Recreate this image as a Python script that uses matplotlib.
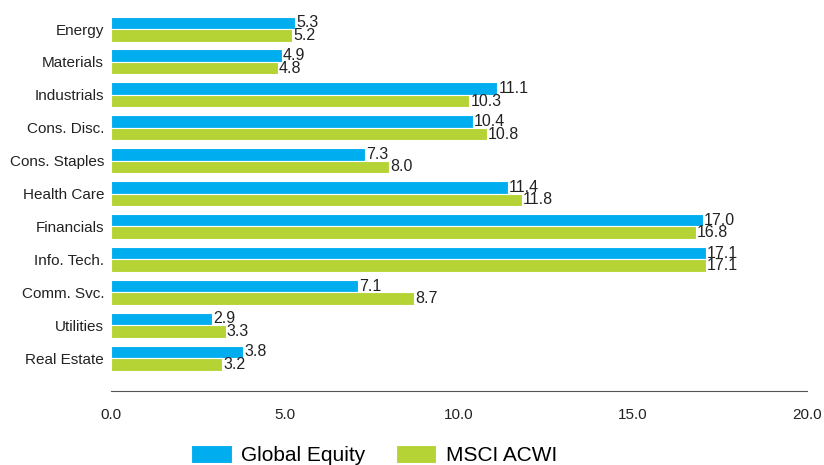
import matplotlib.pyplot as plt
import numpy as np

sectors = ["Energy", "Materials", "Industrials", "Cons. Disc.", "Cons. Staples",
           "Health Care", "Financials", "Info. Tech.", "Comm. Svc.", "Utilities",
           "Real Estate"]
global_equity = [5.3, 4.9, 11.1, 10.4, 7.3, 11.4, 17.0, 17.1, 7.1, 2.9, 3.8]
msci_acwi = [5.2, 4.8, 10.3, 10.8, 8.0, 11.8, 16.8, 17.1, 8.7, 3.3, 3.2]

plt.rcParams["font.family"] = ["Liberation Sans Narrow", "Liberation Sans", "DejaVu Sans"]

blue = "#00AEEF"
green = "#B5D334"

fig = plt.figure(figsize=(8.24, 4.65), dpi=100)
ax = fig.add_axes([0.1347, 0.159, 0.8447, 0.814])

y = np.arange(len(sectors))
h = 0.38
b1 = ax.barh(y - h / 2, global_equity, height=h, color=blue, edgecolor="white",
             linewidth=0.8, label="Global Equity")
b2 = ax.barh(y + h / 2, msci_acwi, height=h, color=green, edgecolor="white",
             linewidth=0.8, label="MSCI ACWI")

for bars, vals in [(b1, global_equity), (b2, msci_acwi)]:
    for bar, v in zip(bars, vals):
        ax.text(v + 0.03, bar.get_y() + bar.get_height() / 2, f"{v:.1f}",
                va="center", ha="left", fontsize=11.5, color="#222222")

ax.set_xlim(0, 20)
ax.set_ylim(11.0, -0.5)
ax.set_yticks(y)
ax.set_yticklabels(sectors, fontsize=11, color="#222222")
ax.set_xticks([0, 5, 10, 15, 20])
ax.set_xticklabels(["0.0", "5.0", "10.0", "15.0", "20.0"], fontsize=11, color="#222222")
ax.tick_params(axis="both", length=0)
ax.tick_params(axis="x", pad=12)
ax.tick_params(axis="y", pad=5)

for s in ["top", "right", "left"]:
    ax.spines[s].set_visible(False)
ax.spines["bottom"].set_color("#555555")
ax.spines["bottom"].set_linewidth(0.8)

fig.legend(handles=[b1, b2], loc="center", bbox_to_anchor=(0.454, 0.022),
           ncol=2, frameon=False, fontsize=15, handlelength=1.95, handleheight=1.0,
           columnspacing=1.45, handletextpad=0.45)

fig.savefig("out.png", dpi=100)
